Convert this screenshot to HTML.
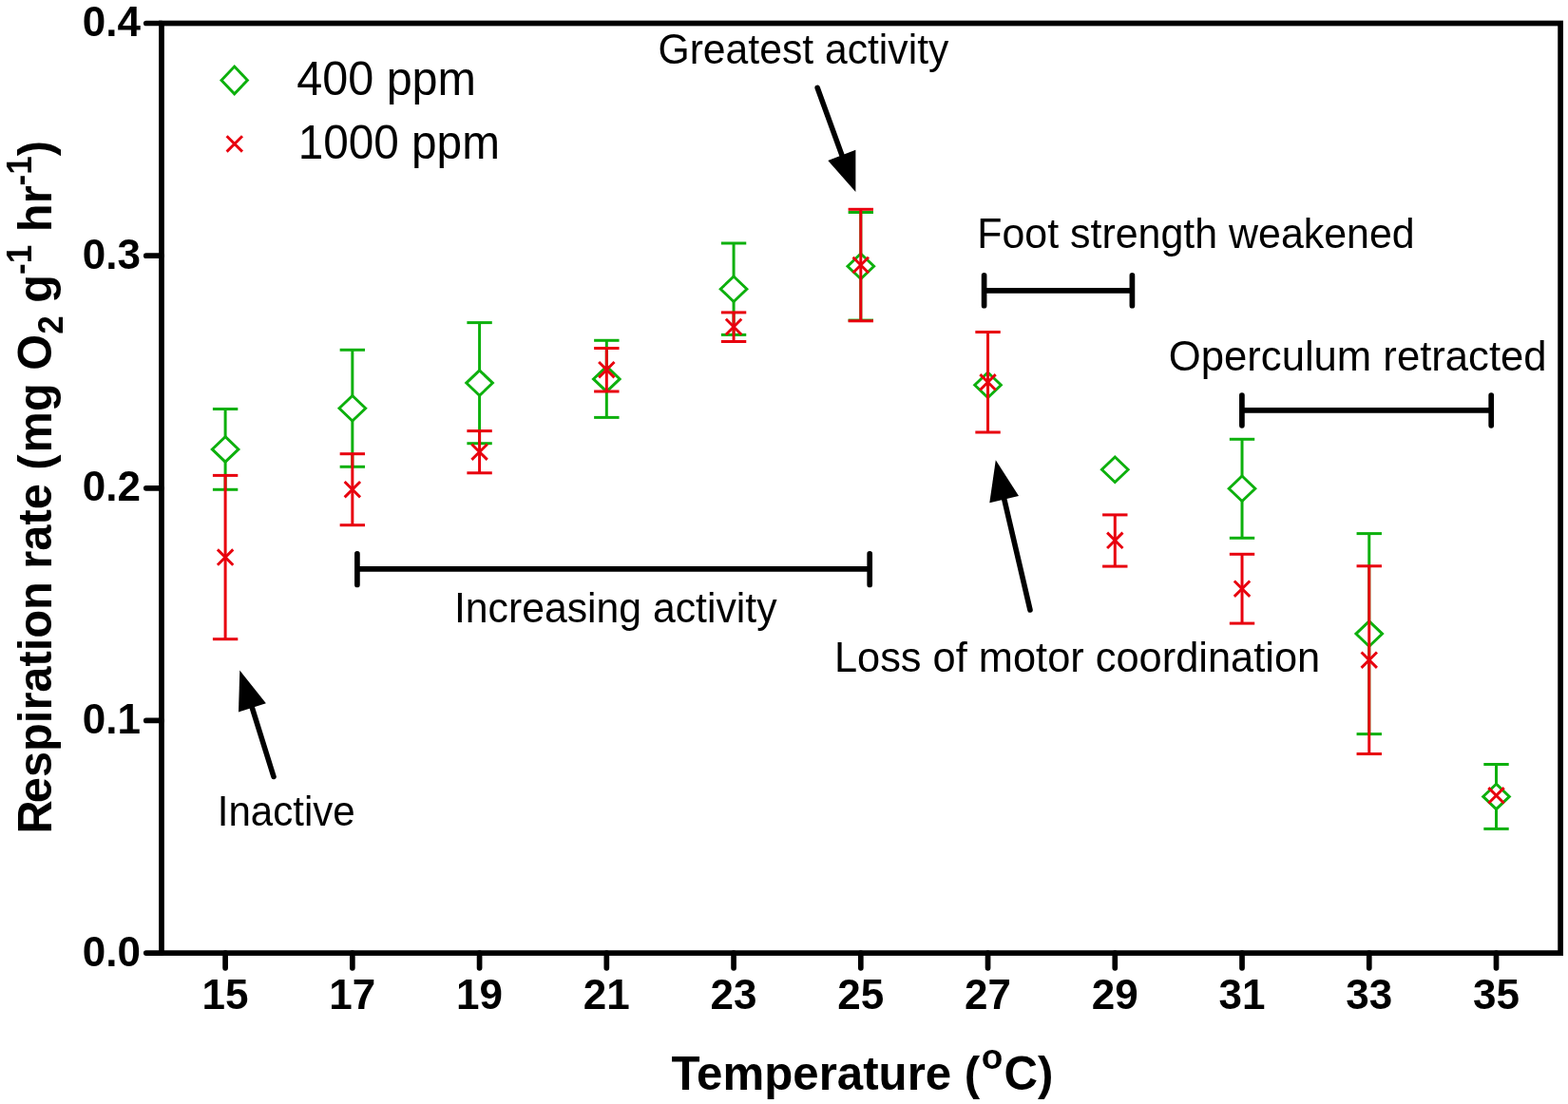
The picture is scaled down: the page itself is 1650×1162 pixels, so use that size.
<!DOCTYPE html>
<html><head><meta charset="utf-8"><title>Respiration rate vs temperature</title>
<style>
html,body{margin:0;padding:0;background:#fff;}
body{width:1650px;height:1162px;overflow:hidden;}
svg{display:block;}
text{font-family:"Liberation Sans",Arial,sans-serif;fill:#000;}
.tk{font-size:44px;font-weight:bold;}
.lg{font-size:48px;}
.an{font-size:42.5px;}
.ti{font-size:50px;font-weight:bold;}
</style></head>
<body>
<svg width="1650" height="1162" viewBox="0 0 1650 1162">
<rect width="1650" height="1162" fill="#fff"/>
<rect x="170.0" y="24.5" width="1472.1" height="978.6" fill="none" stroke="#000" stroke-width="5.7"/>
<line x1="153.8" y1="24.5" x2="170.0" y2="24.5" stroke="#000" stroke-width="5.7" stroke-linecap="round"/>
<text x="148" y="37.9" class="tk" text-anchor="end">0.4</text>
<line x1="153.8" y1="269.15" x2="170.0" y2="269.15" stroke="#000" stroke-width="5.7" stroke-linecap="round"/>
<text x="148" y="282.55" class="tk" text-anchor="end">0.3</text>
<line x1="153.8" y1="513.8" x2="170.0" y2="513.8" stroke="#000" stroke-width="5.7" stroke-linecap="round"/>
<text x="148" y="527.2" class="tk" text-anchor="end">0.2</text>
<line x1="153.8" y1="758.45" x2="170.0" y2="758.45" stroke="#000" stroke-width="5.7" stroke-linecap="round"/>
<text x="148" y="771.85" class="tk" text-anchor="end">0.1</text>
<line x1="153.8" y1="1003.1" x2="170.0" y2="1003.1" stroke="#000" stroke-width="5.7" stroke-linecap="round"/>
<text x="148" y="1016.5" class="tk" text-anchor="end">0.0</text>
<line x1="237.1" y1="1003.1" x2="237.1" y2="1018.8" stroke="#000" stroke-width="5.7" stroke-linecap="round"/>
<text x="237.1" y="1062" class="tk" text-anchor="middle">15</text>
<line x1="370.84" y1="1003.1" x2="370.84" y2="1018.8" stroke="#000" stroke-width="5.7" stroke-linecap="round"/>
<text x="370.84" y="1062" class="tk" text-anchor="middle">17</text>
<line x1="504.58" y1="1003.1" x2="504.58" y2="1018.8" stroke="#000" stroke-width="5.7" stroke-linecap="round"/>
<text x="504.58" y="1062" class="tk" text-anchor="middle">19</text>
<line x1="638.32" y1="1003.1" x2="638.32" y2="1018.8" stroke="#000" stroke-width="5.7" stroke-linecap="round"/>
<text x="638.32" y="1062" class="tk" text-anchor="middle">21</text>
<line x1="772.06" y1="1003.1" x2="772.06" y2="1018.8" stroke="#000" stroke-width="5.7" stroke-linecap="round"/>
<text x="772.06" y="1062" class="tk" text-anchor="middle">23</text>
<line x1="905.8" y1="1003.1" x2="905.8" y2="1018.8" stroke="#000" stroke-width="5.7" stroke-linecap="round"/>
<text x="905.8" y="1062" class="tk" text-anchor="middle">25</text>
<line x1="1039.54" y1="1003.1" x2="1039.54" y2="1018.8" stroke="#000" stroke-width="5.7" stroke-linecap="round"/>
<text x="1039.54" y="1062" class="tk" text-anchor="middle">27</text>
<line x1="1173.28" y1="1003.1" x2="1173.28" y2="1018.8" stroke="#000" stroke-width="5.7" stroke-linecap="round"/>
<text x="1173.28" y="1062" class="tk" text-anchor="middle">29</text>
<line x1="1307.02" y1="1003.1" x2="1307.02" y2="1018.8" stroke="#000" stroke-width="5.7" stroke-linecap="round"/>
<text x="1307.02" y="1062" class="tk" text-anchor="middle">31</text>
<line x1="1440.76" y1="1003.1" x2="1440.76" y2="1018.8" stroke="#000" stroke-width="5.7" stroke-linecap="round"/>
<text x="1440.76" y="1062" class="tk" text-anchor="middle">33</text>
<line x1="1574.5" y1="1003.1" x2="1574.5" y2="1018.8" stroke="#000" stroke-width="5.7" stroke-linecap="round"/>
<text x="1574.5" y="1062" class="tk" text-anchor="middle">35</text>
<line x1="237.1" y1="430.5" x2="237.1" y2="515.3" stroke="#0db00d" stroke-width="3.0"/>
<line x1="223.9" y1="430.5" x2="250.3" y2="430.5" stroke="#0db00d" stroke-width="3.0"/>
<line x1="223.9" y1="515.3" x2="250.3" y2="515.3" stroke="#0db00d" stroke-width="3.0"/>
<line x1="370.84" y1="368.3" x2="370.84" y2="491.3" stroke="#0db00d" stroke-width="3.0"/>
<line x1="357.64" y1="368.3" x2="384.04" y2="368.3" stroke="#0db00d" stroke-width="3.0"/>
<line x1="357.64" y1="491.3" x2="384.04" y2="491.3" stroke="#0db00d" stroke-width="3.0"/>
<line x1="504.58" y1="339.6" x2="504.58" y2="466.7" stroke="#0db00d" stroke-width="3.0"/>
<line x1="491.38" y1="339.6" x2="517.78" y2="339.6" stroke="#0db00d" stroke-width="3.0"/>
<line x1="491.38" y1="466.7" x2="517.78" y2="466.7" stroke="#0db00d" stroke-width="3.0"/>
<line x1="638.32" y1="358.3" x2="638.32" y2="439.4" stroke="#0db00d" stroke-width="3.0"/>
<line x1="625.12" y1="358.3" x2="651.52" y2="358.3" stroke="#0db00d" stroke-width="3.0"/>
<line x1="625.12" y1="439.4" x2="651.52" y2="439.4" stroke="#0db00d" stroke-width="3.0"/>
<line x1="772.06" y1="256" x2="772.06" y2="352.4" stroke="#0db00d" stroke-width="3.0"/>
<line x1="758.86" y1="256" x2="785.26" y2="256" stroke="#0db00d" stroke-width="3.0"/>
<line x1="758.86" y1="352.4" x2="785.26" y2="352.4" stroke="#0db00d" stroke-width="3.0"/>
<line x1="905.8" y1="223.5" x2="905.8" y2="337.1" stroke="#0db00d" stroke-width="3.0"/>
<line x1="892.6" y1="223.5" x2="919" y2="223.5" stroke="#0db00d" stroke-width="3.0"/>
<line x1="892.6" y1="337.1" x2="919" y2="337.1" stroke="#0db00d" stroke-width="3.0"/>
<line x1="1307.02" y1="462.3" x2="1307.02" y2="566.3" stroke="#0db00d" stroke-width="3.0"/>
<line x1="1293.82" y1="462.3" x2="1320.22" y2="462.3" stroke="#0db00d" stroke-width="3.0"/>
<line x1="1293.82" y1="566.3" x2="1320.22" y2="566.3" stroke="#0db00d" stroke-width="3.0"/>
<line x1="1440.76" y1="561.6" x2="1440.76" y2="772.6" stroke="#0db00d" stroke-width="3.0"/>
<line x1="1427.56" y1="561.6" x2="1453.96" y2="561.6" stroke="#0db00d" stroke-width="3.0"/>
<line x1="1427.56" y1="772.6" x2="1453.96" y2="772.6" stroke="#0db00d" stroke-width="3.0"/>
<line x1="1574.5" y1="804.5" x2="1574.5" y2="872.4" stroke="#0db00d" stroke-width="3.0"/>
<line x1="1561.3" y1="804.5" x2="1587.7" y2="804.5" stroke="#0db00d" stroke-width="3.0"/>
<line x1="1561.3" y1="872.4" x2="1587.7" y2="872.4" stroke="#0db00d" stroke-width="3.0"/>
<path d="M237.1 459.65L250.95 472.9L237.1 486.15L223.25 472.9Z" fill="#fff" stroke="#0db00d" stroke-width="2.9"/>
<path d="M370.84 416.55L384.69 429.8L370.84 443.05L356.99 429.8Z" fill="#fff" stroke="#0db00d" stroke-width="2.9"/>
<path d="M504.58 389.85L518.43 403.1L504.58 416.35L490.73 403.1Z" fill="#fff" stroke="#0db00d" stroke-width="2.9"/>
<path d="M638.32 385.65L652.17 398.9L638.32 412.15L624.47 398.9Z" fill="#fff" stroke="#0db00d" stroke-width="2.9"/>
<path d="M772.06 290.95L785.91 304.2L772.06 317.45L758.21 304.2Z" fill="#fff" stroke="#0db00d" stroke-width="2.9"/>
<path d="M905.8 267.05L919.65 280.3L905.8 293.55L891.95 280.3Z" fill="#fff" stroke="#0db00d" stroke-width="2.9"/>
<path d="M1039.54 392.05L1053.39 405.3L1039.54 418.55L1025.69 405.3Z" fill="#fff" stroke="#0db00d" stroke-width="2.9"/>
<path d="M1173.28 480.95L1187.13 494.2L1173.28 507.45L1159.43 494.2Z" fill="#fff" stroke="#0db00d" stroke-width="2.9"/>
<path d="M1307.02 501.05L1320.87 514.3L1307.02 527.55L1293.17 514.3Z" fill="#fff" stroke="#0db00d" stroke-width="2.9"/>
<path d="M1440.76 653.85L1454.61 667.1L1440.76 680.35L1426.91 667.1Z" fill="#fff" stroke="#0db00d" stroke-width="2.9"/>
<path d="M1574.5 825.15L1588.35 838.4L1574.5 851.65L1560.65 838.4Z" fill="#fff" stroke="#0db00d" stroke-width="2.9"/>
<line x1="237.1" y1="500.4" x2="237.1" y2="672.7" stroke="#e8000e" stroke-width="3.0"/>
<line x1="223.9" y1="500.4" x2="250.3" y2="500.4" stroke="#e8000e" stroke-width="3.0"/>
<line x1="223.9" y1="672.7" x2="250.3" y2="672.7" stroke="#e8000e" stroke-width="3.0"/>
<line x1="370.84" y1="477.7" x2="370.84" y2="552.7" stroke="#e8000e" stroke-width="3.0"/>
<line x1="357.64" y1="477.7" x2="384.04" y2="477.7" stroke="#e8000e" stroke-width="3.0"/>
<line x1="357.64" y1="552.7" x2="384.04" y2="552.7" stroke="#e8000e" stroke-width="3.0"/>
<line x1="504.58" y1="453.6" x2="504.58" y2="497.8" stroke="#e8000e" stroke-width="3.0"/>
<line x1="491.38" y1="453.6" x2="517.78" y2="453.6" stroke="#e8000e" stroke-width="3.0"/>
<line x1="491.38" y1="497.8" x2="517.78" y2="497.8" stroke="#e8000e" stroke-width="3.0"/>
<line x1="638.32" y1="366.5" x2="638.32" y2="412" stroke="#e8000e" stroke-width="3.0"/>
<line x1="625.12" y1="366.5" x2="651.52" y2="366.5" stroke="#e8000e" stroke-width="3.0"/>
<line x1="625.12" y1="412" x2="651.52" y2="412" stroke="#e8000e" stroke-width="3.0"/>
<line x1="772.06" y1="328.9" x2="772.06" y2="359.5" stroke="#e8000e" stroke-width="3.0"/>
<line x1="758.86" y1="328.9" x2="785.26" y2="328.9" stroke="#e8000e" stroke-width="3.0"/>
<line x1="758.86" y1="359.5" x2="785.26" y2="359.5" stroke="#e8000e" stroke-width="3.0"/>
<line x1="905.8" y1="220.3" x2="905.8" y2="337.8" stroke="#e8000e" stroke-width="3.0"/>
<line x1="892.6" y1="220.3" x2="919" y2="220.3" stroke="#e8000e" stroke-width="3.0"/>
<line x1="892.6" y1="337.8" x2="919" y2="337.8" stroke="#e8000e" stroke-width="3.0"/>
<line x1="1039.54" y1="349.5" x2="1039.54" y2="455" stroke="#e8000e" stroke-width="3.0"/>
<line x1="1026.34" y1="349.5" x2="1052.74" y2="349.5" stroke="#e8000e" stroke-width="3.0"/>
<line x1="1026.34" y1="455" x2="1052.74" y2="455" stroke="#e8000e" stroke-width="3.0"/>
<line x1="1173.28" y1="541.9" x2="1173.28" y2="596.1" stroke="#e8000e" stroke-width="3.0"/>
<line x1="1160.08" y1="541.9" x2="1186.48" y2="541.9" stroke="#e8000e" stroke-width="3.0"/>
<line x1="1160.08" y1="596.1" x2="1186.48" y2="596.1" stroke="#e8000e" stroke-width="3.0"/>
<line x1="1307.02" y1="583.3" x2="1307.02" y2="656.1" stroke="#e8000e" stroke-width="3.0"/>
<line x1="1293.82" y1="583.3" x2="1320.22" y2="583.3" stroke="#e8000e" stroke-width="3.0"/>
<line x1="1293.82" y1="656.1" x2="1320.22" y2="656.1" stroke="#e8000e" stroke-width="3.0"/>
<line x1="1440.76" y1="595.8" x2="1440.76" y2="793.5" stroke="#e8000e" stroke-width="3.0"/>
<line x1="1427.56" y1="595.8" x2="1453.96" y2="595.8" stroke="#e8000e" stroke-width="3.0"/>
<line x1="1427.56" y1="793.5" x2="1453.96" y2="793.5" stroke="#e8000e" stroke-width="3.0"/>
<path d="M228.9 578.4L245.3 594.8M245.3 578.4L228.9 594.8" fill="none" stroke="#e8000e" stroke-width="2.9"/>
<path d="M362.64 507L379.04 523.4M379.04 507L362.64 523.4" fill="none" stroke="#e8000e" stroke-width="2.9"/>
<path d="M496.38 467.5L512.78 483.9M512.78 467.5L496.38 483.9" fill="none" stroke="#e8000e" stroke-width="2.9"/>
<path d="M630.12 381L646.52 397.4M646.52 381L630.12 397.4" fill="none" stroke="#e8000e" stroke-width="2.9"/>
<path d="M763.86 335.8L780.26 352.2M780.26 335.8L763.86 352.2" fill="none" stroke="#e8000e" stroke-width="2.9"/>
<path d="M897.6 270.8L914 287.2M914 270.8L897.6 287.2" fill="none" stroke="#e8000e" stroke-width="2.9"/>
<path d="M1031.34 394.1L1047.74 410.5M1047.74 394.1L1031.34 410.5" fill="none" stroke="#e8000e" stroke-width="2.9"/>
<path d="M1165.08 560.6L1181.48 577M1181.48 560.6L1165.08 577" fill="none" stroke="#e8000e" stroke-width="2.9"/>
<path d="M1298.82 611.5L1315.22 627.9M1315.22 611.5L1298.82 627.9" fill="none" stroke="#e8000e" stroke-width="2.9"/>
<path d="M1432.56 686.5L1448.96 702.9M1448.96 686.5L1432.56 702.9" fill="none" stroke="#e8000e" stroke-width="2.9"/>
<path d="M1566.3 829.1L1582.7 845.5M1582.7 829.1L1566.3 845.5" fill="none" stroke="#e8000e" stroke-width="2.9"/>
<path d="M246.7 70L260.4 84.4L246.7 98.8L233 84.4Z" fill="#fff" stroke="#0db00d" stroke-width="2.9"/>
<path d="M238.6 143.2L255 159.6M255 143.2L238.6 159.6" fill="none" stroke="#e8000e" stroke-width="2.9"/>
<path d="M1035.6 289.95V321.75M1191.4 289.95V321.75M1035.6 305.9H1191.4" fill="none" stroke="#000" stroke-width="5.7" stroke-linecap="round"/>
<path d="M1306.9 416.05V447.85M1569.2 416.05V447.85M1306.9 431.9H1569.2" fill="none" stroke="#000" stroke-width="5.7" stroke-linecap="round"/>
<path d="M375.9 582.95V615.45M915.2 582.95V615.45M375.9 598.8H915.2" fill="none" stroke="#000" stroke-width="5.7" stroke-linecap="round"/>
<line x1="860.2" y1="92.5" x2="888.76" y2="171.12" stroke="#000" stroke-width="5.6" stroke-linecap="round"/><path d="M900.4 202L871.3 169L900.4 157.8Z" fill="#000"/>
<line x1="288" y1="817.5" x2="262.82" y2="736.94" stroke="#000" stroke-width="5.6" stroke-linecap="round"/><path d="M252.3 705.5L251 749.4L279.9 740.2Z" fill="#000"/>
<line x1="1084" y1="642" x2="1054.88" y2="517.34" stroke="#000" stroke-width="5.6" stroke-linecap="round"/><path d="M1047.8 484.3L1041.3 529.2L1072 522Z" fill="#000"/>
<text transform="translate(692.44 66.8) scale(0.9812 1)" style="font-size:43.5px">Greatest activity</text>
<text transform="translate(1028.25 261.3) scale(0.9870 1)" style="font-size:43.5px">Foot strength weakened</text>
<text transform="translate(1229.79 390.3) scale(1.0036 1)" style="font-size:43.5px">Operculum retracted</text>
<text transform="translate(477.97 655) scale(0.9824 1)" style="font-size:43.5px">Increasing activity</text>
<text transform="translate(877.91 706.7) scale(0.9976 1)" style="font-size:43.5px">Loss of motor coordination</text>
<text transform="translate(228.73 868.8) scale(0.9674 1)" style="font-size:43.5px">Inactive</text>
<text transform="translate(312.23 99.8) scale(0.9705 1)" style="font-size:50px">400 ppm</text>
<text transform="translate(313.68 167.2) scale(0.9544 1)" style="font-size:50px">1000 ppm</text>
<text transform="translate(706.6 1147.3) scale(0.985 1)" class="ti">Temperature (<tspan font-size="37.5" dx="1.62" dy="-22.8">o</tspan><tspan dx="1.12" dy="22.8">C)</tspan></text>
<text transform="translate(54.2 877.4) rotate(-90) scale(0.9754 1)" class="ti">R<tspan dx="-3.08">espiration rate </tspan><tspan dx="1.03">(</tspan><tspan dx="2.05">mg O</tspan><tspan font-size="36" dy="11.7">2</tspan><tspan dy="-11.7"> g</tspan><tspan font-size="36" dy="-21">-1</tspan><tspan dy="21"> hr</tspan><tspan font-size="36" dy="-21">-1</tspan><tspan dy="21">)</tspan></text>
</svg>
</body></html>
